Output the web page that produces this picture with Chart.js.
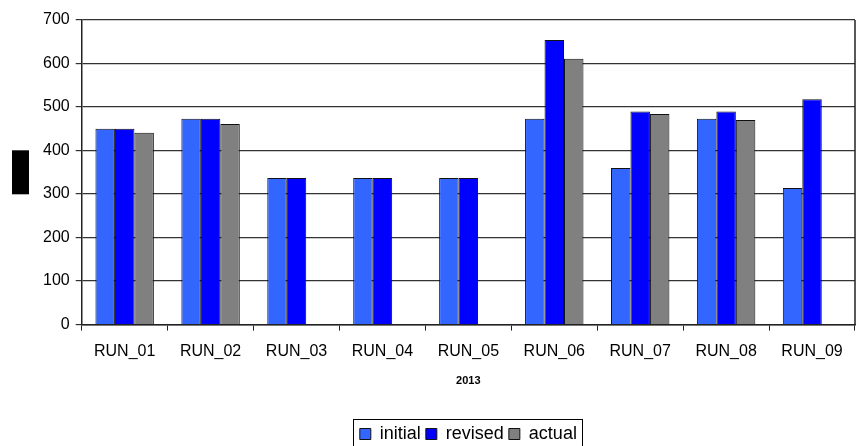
<!DOCTYPE html>
<html>
<head>
<meta charset="utf-8">
<script src="https://cdn.jsdelivr.net/npm/chart.js@4"></script>
<style>
  html, body { margin: 0; padding: 0; background: #fff; }
  #wrap { width: 860px; height: 446px; }
</style>
</head>
<body>
<div id="wrap"><canvas id="c" width="860" height="446"></canvas></div>
<script>
// Runs of 2013
const categories = ['RUN_01', 'RUN_02', 'RUN_03', 'RUN_04', 'RUN_05', 'RUN_06', 'RUN_07', 'RUN_08', 'RUN_09'];
const initialValues = [450, 473, 337, 337, 337, 473, 360, 473, 314];
const revisedValues = [450, 473, 337, 337, 337, 654, 490, 490, 518];
const actualValues  = [441, 461, null, null, null, 611, 484, 470, null];
const yTicks = [0, 100, 200, 300, 400, 500, 600, 700];
const xTitle = '2013';

const FONT = '"Liberation Sans", Arial, sans-serif';
const LEGEND_DROP = 7;

// Frame round the plot area, box round the legend, and the filled y-title block
const decorations = {
  id: 'decorations',
  afterLayout(chart) {
    // legend sits a little lower and centred under the plot area
    const lg = chart.legend;
    const a = chart.chartArea;
    const dx = (a.left + a.right) / 2 - (lg.left + lg.right) / 2;
    lg.top += LEGEND_DROP;
    lg.bottom += LEGEND_DROP;
    lg.left += dx;
    lg.right += dx;
    (lg.legendHitBoxes || []).forEach(b => { b.top += LEGEND_DROP; b.left += dx; });
  },
  afterDraw(chart) {
    const ctx = chart.ctx;
    const a = chart.chartArea;
    ctx.save();
    ctx.strokeStyle = '#222';
    ctx.lineWidth = 1.5;
    ctx.beginPath();
    ctx.moveTo(a.right, a.top);
    ctx.lineTo(a.right, a.bottom);
    ctx.stroke();

    const lg = chart.legend;
    const boxes = lg.legendHitBoxes || [];
    if (boxes.length) {
      const l = Math.min(...boxes.map(b => b.left)) - 7;
      const r = Math.max(...boxes.map(b => b.left + b.width)) + 5;
      const t = Math.min(...boxes.map(b => b.top)) - 13;
      ctx.lineWidth = 1;
      ctx.strokeStyle = '#000';
      ctx.strokeRect(Math.round(l) + 0.5, Math.round(t) + 0.5, Math.round(r - l), 60);
    }

    const mid = (a.top + a.bottom) / 2;
    ctx.fillStyle = '#000';
    ctx.fillRect(12, mid - 22, 17, 44);
    ctx.restore();
  }
};

new Chart(document.getElementById('c'), {
  type: 'bar',
  data: {
    labels: categories,
    datasets: [
      { label: 'initial', data: initialValues, backgroundColor: '#3366FF', borderColor: '#111', borderWidth: 1 },
      { label: 'revised', data: revisedValues, backgroundColor: '#0000FF', borderColor: '#111', borderWidth: 1 },
      { label: 'actual',  data: actualValues,  backgroundColor: '#808080', borderColor: '#111', borderWidth: 1 }
    ]
  },
  options: {
    responsive: false,
    animation: false,
    devicePixelRatio: 1,
    layout: { padding: { left: 37, right: 5, top: 20, bottom: 0 } },
    datasets: { bar: { categoryPercentage: 0.68, barPercentage: 1.0 } },
    plugins: {
      legend: {
        position: 'bottom',
        align: 'center',
        labels: {
          font: { family: FONT, size: 18 },
          color: '#000',
          boxWidth: 11,
          boxHeight: 11,
          padding: 5,
          useBorderRadius: false
        },
        onClick: null
      },
      tooltip: { enabled: false }
    },
    scales: {
      x: {
        offset: true,
        grid: { offset: true, drawOnChartArea: false, color: '#222', tickLength: 6, lineWidth: 1 },
        border: { color: '#222', width: 1.5 },
        ticks: { font: { family: FONT, size: 16 }, color: '#000', padding: 11, maxRotation: 0 },
        title: { display: true, text: xTitle, font: { family: FONT, size: 11, weight: 'bold' }, color: '#000', padding: { top: 3, bottom: 25 } }
      },
      y: {
        min: 0,
        max: 700,
        afterBuildTicks(axis) { axis.ticks = yTicks.map(v => ({ value: v })); },
        grid: { color: '#333', lineWidth: 1.2, tickLength: 6 },
        border: { color: '#222', width: 1.5 },
        ticks: { font: { family: FONT, size: 16 }, color: '#000', padding: 6 }
      }
    }
  },
  plugins: [decorations]
});
</script>
</body>
</html>
